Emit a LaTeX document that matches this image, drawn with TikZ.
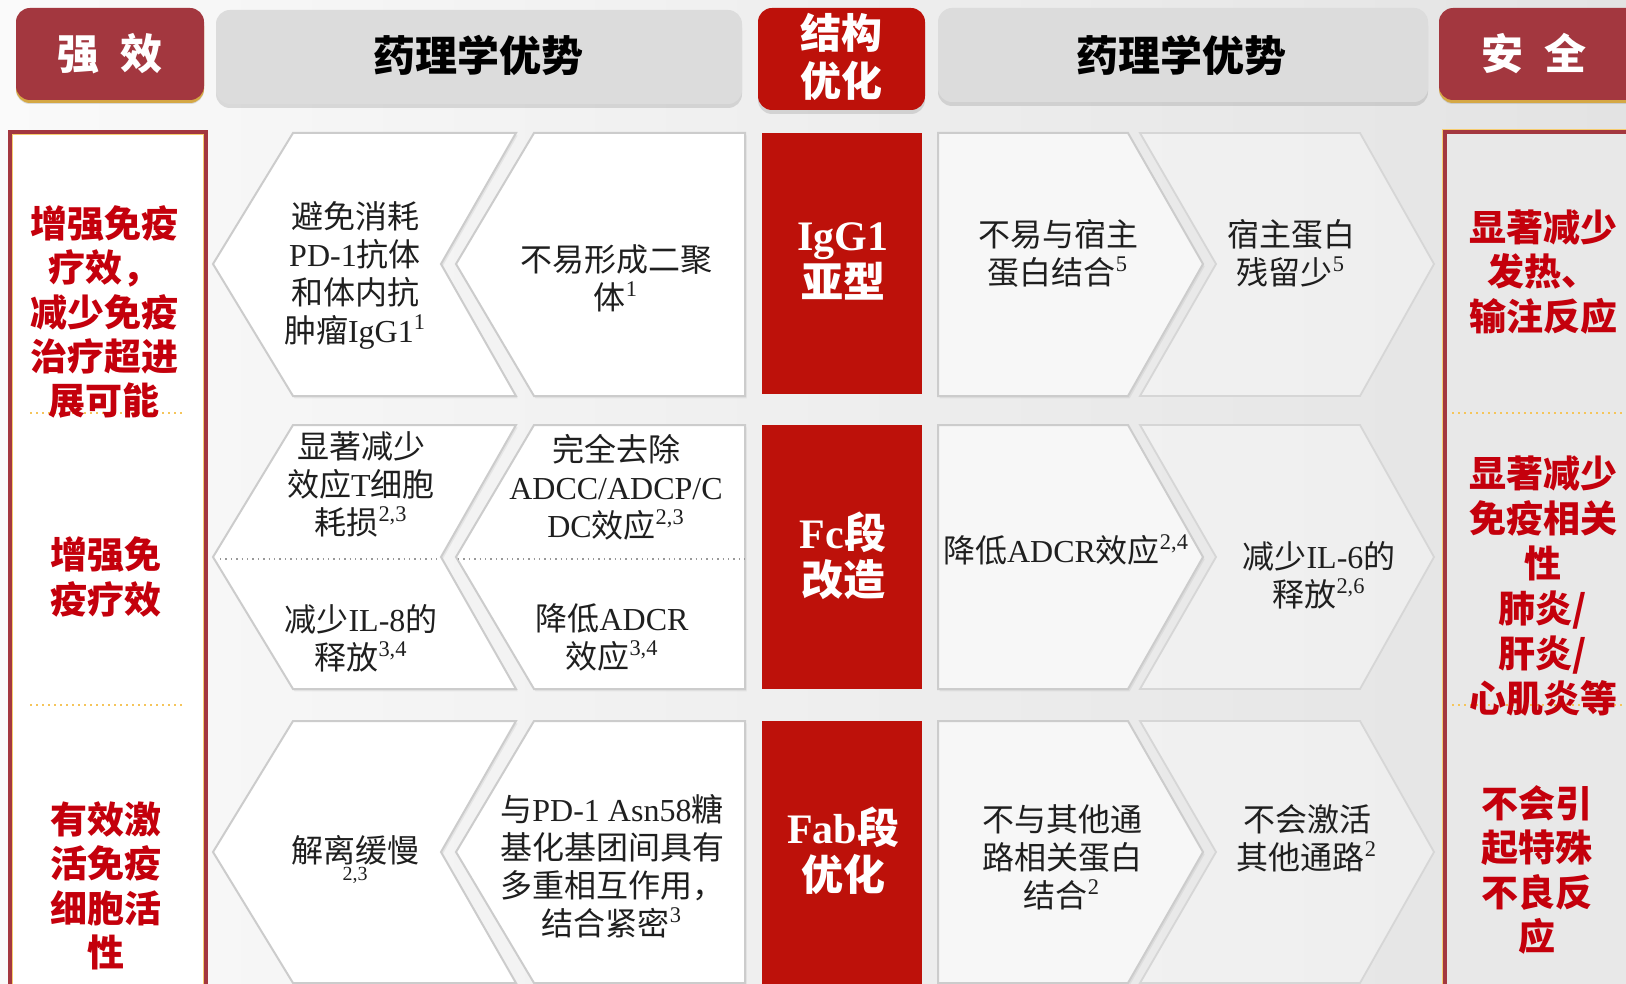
\documentclass[tikz,border=0pt]{standalone}
\usepackage{fontspec}
\setmainfont{Liberation Serif}
\newfontfamily\zh{Noto Sans CJK SC}
\usetikzlibrary{shadows}
\definecolor{darkred}{HTML}{A3373F}
\definecolor{brightred}{HTML}{BD110A}
\definecolor{txtred}{HTML}{C4000C}
\definecolor{hdrgray}{HTML}{DCDCDC}
\definecolor{gold}{HTML}{F2B632}
\definecolor{chevline}{HTML}{CCCCCC}
\newcommand\en[1]{{\rmfamily#1}}
\newcommand\sps[1]{\textsuperscript{\rmfamily#1}}
\newcommand\chevA[3]{\draw[chev] (293,#1) -- (516,#1) -- (441,#3) -- (516,#2) -- (293,#2) -- (213,#3) -- cycle;}
\newcommand\chevB[3]{\draw[chev] (534,#1) -- (745,#1) -- (745,#2) -- (534,#2) -- (456,#3) -- cycle;}
\newcommand\chevC[3]{\draw[chev, fill=white!97!black] (938,#1) -- (1128,#1) -- (1203,#3) -- (1128,#2) -- (938,#2) -- cycle;}
\newcommand\chevD[3]{\draw[chevfaint] (1140,#1) -- (1360,#1) -- (1434,#3) -- (1360,#2) -- (1140,#2) -- (1216,#3) -- cycle;}
\tikzset{
  chev/.style={draw=chevline, line width=1pt, fill=white, line join=miter,
    drop shadow={opacity=0.12, shadow xshift=0.8pt, shadow yshift=-1.2pt}},
  chevfaint/.style={draw=chevline!80, line width=0.9pt, fill=white, fill opacity=0.35, line join=miter},
  chevtxt/.style={align=center, font=\zh\fontsize{16}{19}\selectfont, text=black!88, inner sep=0pt},
  sidetxt/.style={align=center, font=\zh\bfseries\fontsize{18.5}{22.2}\selectfont, text=txtred, inner sep=0pt},
  hdrtxt/.style={align=center, font=\zh\bfseries\fontsize{21}{24}\selectfont, inner sep=0pt},
  redtxt/.style={align=center, font=\zh\bfseries\fontsize{21}{23.5}\selectfont, text=white, inner sep=0pt},
  hdrbox/.style={rounded corners=7pt, drop shadow={opacity=0.25, shadow xshift=0pt, shadow yshift=-2pt}},
  seprule/.style={gold!80, dotted, line width=1pt},
  midsep/.style={black!40, dotted, line width=0.7pt}
}
\begin{document}
\begin{tikzpicture}[x=0.5pt, y=-0.5pt]
\useasboundingbox (0,0) rectangle (1626,984);
\clip (0,0) rectangle (1626,984);
% background
\fill[left color=white!98!black, right color=white!89!black] (0,0) rectangle (1626,984);
% header boxes
\fill[gold] (16,12) [rounded corners=7pt] rectangle (204,103);
\fill[darkred, hdrbox] (16,8) rectangle (204,100);
\node[hdrtxt, text=white] (hq) at (110,54) {强\hspace{0.5em}效};
\fill[hdrgray, hdrbox] (216,10) rectangle (742,104);
\node[hdrtxt, text=black] (h1) at (478,55) {药理学优势};
\fill[brightred, hdrbox] (758,8) rectangle (925,110);
\node[hdrtxt, text=white, font=\zh\bfseries\fontsize{20.5}{24}\selectfont] (hs) at (841,57) {结构\\优化};
\fill[hdrgray, hdrbox] (938,8) rectangle (1428,102);
\node[hdrtxt, text=black] (h2) at (1181,55) {药理学优势};
\fill[gold] (1439,12) [rounded corners=7pt] rectangle (1660,103);
\fill[darkred, hdrbox] (1439,8) rectangle (1660,100);
\node[hdrtxt, text=white] (ha) at (1534,54) {安\hspace{0.5em}全};
% left column box
\fill[white] (10,132) rectangle (206,1000);
\draw[darkred, line width=2pt] (10,1000) -- (10,132) -- (206,132) -- (206,1000);
\draw[gold!70, line width=0.5pt] (12.5,1000) -- (12.5,134.5) -- (203.5,134.5) -- (203.5,1000);
\draw[seprule] (30,413) -- (183,413);
\draw[seprule] (30,705) -- (183,705);
% right column box
\fill[white!91!black] (1445,132) rectangle (1640,1000);
\draw[gold!70, line width=0.5pt] (1442.5,1000) -- (1442.5,129.5) -- (1640,129.5);
\draw[darkred, line width=2pt] (1445,1000) -- (1445,132) -- (1640,132);
\draw[seprule] (1452,413) -- (1626,413);
\draw[seprule] (1452,705) -- (1626,705);
% chevrons
\chevA{133}{396}{264}
\chevB{133}{396}{264}
\chevC{133}{396}{264}
\chevD{133}{396}{264}
\chevA{425}{689}{557}
\chevB{425}{689}{557}
\chevC{425}{689}{557}
\chevD{425}{689}{557}
\chevA{721}{983}{852}
\chevB{721}{983}{852}
\chevC{721}{983}{852}
\chevD{721}{983}{852}
\draw[midsep] (220,559) -- (437,559);
\draw[midsep] (458,559) -- (745,559);
% middle red boxes
\fill[brightred] (762,133) rectangle (922,394);
\fill[brightred] (762,425) rectangle (922,689);
\fill[brightred] (762,721) rectangle (922,990);
\node[redtxt] (m1) at (843,261) {\en{IgG1}\\亚型};
\node[redtxt] (m2) at (843,556) {\en{Fc}段\\改造};
\node[redtxt] (m3) at (843,851) {\en{Fab}段\\优化};
% side texts
\node[sidetxt] (l1) at (104,312) {增强免疫\\疗效，\\减少免疫\\治疗超进\\展可能};
\node[sidetxt] (l2) at (106,577) {增强免\\疫疗效};
\node[sidetxt] (l3) at (106,886) {有效激\\活免疫\\细胞活\\性};
\node[sidetxt] (r1) at (1543,272) {显著减少\\发热、\\输注反应};
\node[sidetxt, font=\zh\bfseries\fontsize{18.5}{22.5}\selectfont] (r2) at (1543,586) {显著减少\\免疫相关\\性\\肺炎/\\肝炎/\\心肌炎等};
\node[sidetxt] (r3) at (1537,870) {不会引\\起特殊\\不良反\\应};
% chevron texts row 1
\node[chevtxt] (a1) at (355,275) {避免消耗\\\en{PD-1}抗体\\和体内抗\\肿瘤\en{IgG1}\sps{1}};
\node[chevtxt] (b1) at (616,278) {不易形成二聚\\体\sps{1}};
\node[chevtxt] (c1) at (1058,253) {不易与宿主\\蛋白结合\sps{5}};
\node[chevtxt] (d1) at (1291,253) {宿主蛋白\\残留少\sps{5}};
% row 2
\node[chevtxt] (a2t) at (361,484) {显著减少\\效应\en{T}细胞\\耗损\sps{2,3}};
\node[chevtxt] (a2b) at (361,638) {减少\en{IL-8}的\\释放\sps{3,4}};
\node[chevtxt] (b2t) at (616,487) {完全去除\\\en{ADCC/ADCP/C}\\\en{DC}效应\sps{2,3}};
\node[chevtxt] (b2b) at (612,637) {降低\en{ADCR}\\效应\sps{3,4}};
\node[chevtxt] (c2) at (1066,550) {降低\en{ADCR}效应\sps{2,4}};
\node[chevtxt] (d2) at (1319,575) {减少\en{IL-6}的\\释放\sps{2,6}};
% row 3
\node[chevtxt] (a3) at (355,850) {解离缓慢};
\node[chevtxt, font=\rmfamily\fontsize{10}{11}\selectfont] (a3s) at (355,875) {2,3};
\node[chevtxt] (b3) at (612,866) {与\en{PD-1 Asn58}糖\\基化基团间具有\\多重相互作用，\\结合紧密\sps{3}};
\node[chevtxt] (c3) at (1062,857) {不与其他通\\路相关蛋白\\结合\sps{2}};
\node[chevtxt] (d3) at (1307,838) {不会激活\\其他通路\sps{2}};
\end{tikzpicture}
\end{document}
